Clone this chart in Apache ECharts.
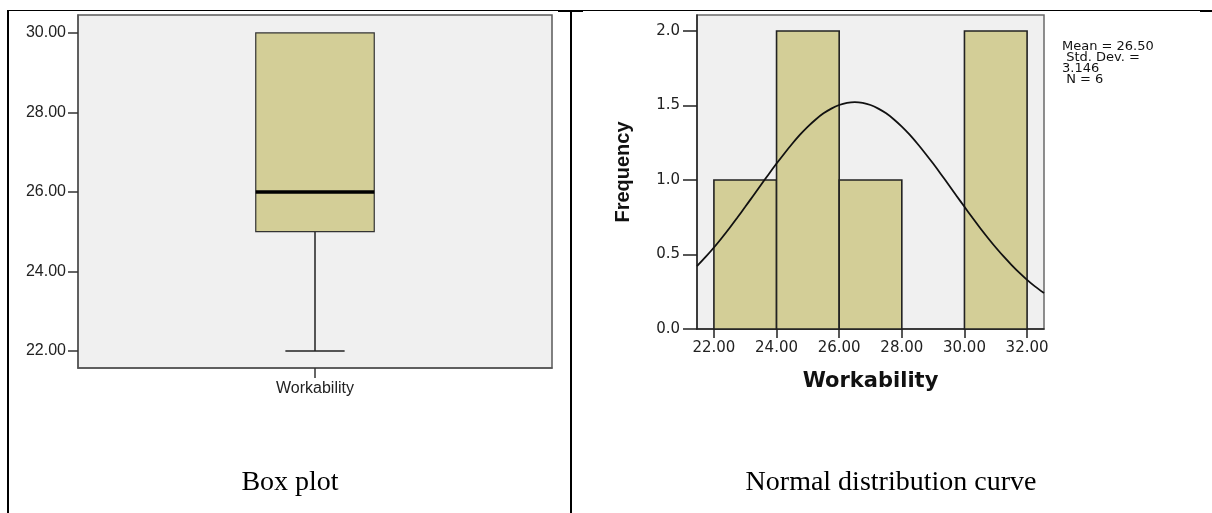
<!DOCTYPE html>
<html><head><meta charset="utf-8">
<script src="https://cdn.jsdelivr.net/npm/echarts@6/dist/echarts.min.js"></script>
<style>html,body{margin:0;padding:0;background:#fff}#c{width:1212px;height:513px}</style>
</head><body><div id="c"></div>
<script>
// ---- Box plot data ----
const boxCategories = ['Workability'];
const boxMin = [22];
const boxQ1 = [25];
const boxMedian = [26];
const boxQ3 = [30];
const boxMax = [30];
const boxYTicks = [22, 24, 26, 28, 30];

// ---- Histogram data ----
const binStarts = [22, 24, 26, 28, 30];
const binEnds = [24, 26, 28, 30, 32];
const binCounts = [1, 2, 1, 0, 2];
const histXTicks = [22, 24, 26, 28, 30, 32];
const histYTicks = [0, 0.5, 1.0, 1.5, 2.0];

// ---- Normal curve ----
const curveX = [21.46, 21.75, 22, 22.25, 22.5, 22.75, 23, 23.25, 23.5, 23.75, 24, 24.25, 24.5, 24.75, 25, 25.25, 25.5, 25.75, 26, 26.25, 26.5,
                26.75, 27, 27.25, 27.5, 27.75, 28, 28.25, 28.5, 28.75, 29, 29.25, 29.5, 29.75, 30, 30.25, 30.5, 30.75, 31, 31.25, 31.5, 31.75, 32, 32.25, 32.54];
const curveY = [0.422, 0.487, 0.547, 0.611, 0.678, 0.748, 0.820, 0.893, 0.966, 1.039, 1.110, 1.178, 1.243, 1.304, 1.358, 1.406, 1.447, 1.479, 1.503, 1.517, 1.522,
                1.517, 1.503, 1.479, 1.447, 1.406, 1.358, 1.304, 1.243, 1.178, 1.110, 1.039, 0.966, 0.893, 0.820, 0.748, 0.678, 0.611, 0.547, 0.487, 0.431, 0.378, 0.330, 0.286, 0.241];

const statsLines = ['Mean = 26.50', ' Std. Dev. =', '3.146', ' N = 6'];
const captions = ['Box plot', 'Normal distribution curve'];

const FILL = '#d3ce97';
const chart = echarts.init(document.getElementById('c'), null, {renderer: 'canvas'});

const boxData = boxCategories.map((c, i) => [i, boxMin[i], boxQ1[i], boxMedian[i], boxQ3[i], boxMax[i]]);
const histData = binStarts.map((s, i) => [s, binEnds[i], binCounts[i]]);
const curveData = curveX.map((x, i) => [x, curveY[i]]);

chart.setOption({
  animation: false,
  grid: [
    {left: 78, top: 15, width: 474, height: 353, show: true, backgroundColor: '#f0f0f0', borderColor: '#5a5a5a', borderWidth: 1.5},
    {left: 697, top: 15, width: 347, height: 314, show: true, backgroundColor: '#f0f0f0', borderColor: '#6a6a6a', borderWidth: 1.5}
  ],
  xAxis: [
    {
      gridIndex: 0, type: 'category', data: boxCategories,
      axisLine: {show: true, lineStyle: {color: '#555', width: 1.5}},
      axisTick: {show: true, alignWithLabel: true, length: 10, lineStyle: {color: '#333', width: 1.5}},
      axisLabel: {margin: 13, fontSize: 16, fontFamily: 'Liberation Sans', color: '#222'},
      splitLine: {show: false}
    },
    {
      gridIndex: 1, type: 'value', min: 21.46, max: 32.54,
      name: 'Workability', nameLocation: 'middle', nameGap: 42,
      nameTextStyle: {fontSize: 21, fontWeight: 'bold', fontFamily: 'DejaVu Sans', color: '#111'},
      axisLine: {show: true, lineStyle: {color: '#222', width: 1.5}},
      axisTick: {show: true, length: 9, customValues: histXTicks, lineStyle: {color: '#222', width: 1.5}},
      axisLabel: {margin: 12, fontSize: 15, fontFamily: 'DejaVu Sans', color: '#222', customValues: histXTicks,
        formatter: v => Number(v).toFixed(2)},
      splitLine: {show: false}
    }
  ],
  yAxis: [
    {
      gridIndex: 0, type: 'value', min: 21.57, max: 30.45,
      axisLine: {show: true, lineStyle: {color: '#555', width: 1.5}},
      axisTick: {show: true, length: 10, customValues: boxYTicks, lineStyle: {color: '#333', width: 1.5}},
      axisLabel: {margin: 12, fontSize: 16, fontFamily: 'Liberation Sans', color: '#222', customValues: boxYTicks,
        formatter: v => Number(v).toFixed(2)},
      splitLine: {show: false}
    },
    {
      gridIndex: 1, type: 'value', min: 0, max: 2.107,
      name: 'Frequency', nameLocation: 'middle', nameGap: 64,
      nameTextStyle: {fontSize: 20, fontWeight: 'bold', fontFamily: 'Liberation Sans', color: '#111'},
      axisLine: {show: true, lineStyle: {color: '#222', width: 1.5}},
      axisTick: {show: true, length: 14, customValues: histYTicks, lineStyle: {color: '#222', width: 1.5}},
      axisLabel: {margin: 17, fontSize: 15, fontFamily: 'DejaVu Sans', color: '#222', customValues: histYTicks,
        formatter: v => Number(v).toFixed(1)},
      splitLine: {show: false}
    }
  ],
  series: [
    {
      type: 'custom', xAxisIndex: 0, yAxisIndex: 0, data: boxData,
      encode: {x: 0, y: [1, 2, 3, 4, 5]},
      renderItem: function (params, api) {
        const xi = api.value(0);
        const band = api.size([1, 0])[0];
        const bw = band * 0.25, cw = bw / 2;
        const pMin = api.coord([xi, api.value(1)]);
        const pQ1 = api.coord([xi, api.value(2)]);
        const pMed = api.coord([xi, api.value(3)]);
        const pQ3 = api.coord([xi, api.value(4)]);
        const pMax = api.coord([xi, api.value(5)]);
        const cx = pMed[0];
        const ls = {stroke: '#222', lineWidth: 1.5};
        const children = [
          {type: 'line', shape: {x1: cx, y1: pQ1[1], x2: cx, y2: pMin[1]}, style: ls},
          {type: 'line', shape: {x1: cx - cw / 2, y1: pMin[1], x2: cx + cw / 2, y2: pMin[1]}, style: ls},
          {type: 'rect', shape: {x: cx - bw / 2, y: pQ3[1], width: bw, height: pQ1[1] - pQ3[1]},
            style: {fill: FILL, stroke: '#333', lineWidth: 1.2}},
          {type: 'line', shape: {x1: cx - bw / 2, y1: pMed[1], x2: cx + bw / 2, y2: pMed[1]},
            style: {stroke: '#000', lineWidth: 3.5}}
        ];
        if (pMax[1] < pQ3[1] - 0.5) {
          children.push({type: 'line', shape: {x1: cx, y1: pQ3[1], x2: cx, y2: pMax[1]}, style: ls});
          children.push({type: 'line', shape: {x1: cx - cw / 2, y1: pMax[1], x2: cx + cw / 2, y2: pMax[1]}, style: ls});
        }
        return {type: 'group', children: children};
      }
    },
    {
      type: 'custom', xAxisIndex: 1, yAxisIndex: 1, data: histData,
      encode: {x: [0, 1], y: 2},
      renderItem: function (params, api) {
        if (!api.value(2)) return null;
        const p0 = api.coord([api.value(0), api.value(2)]);
        const p1 = api.coord([api.value(1), 0]);
        return {type: 'rect', shape: {x: p0[0], y: p0[1], width: p1[0] - p0[0], height: p1[1] - p0[1]},
          style: {fill: FILL, stroke: '#222', lineWidth: 1.6}};
      }
    },
    {
      type: 'line', xAxisIndex: 1, yAxisIndex: 1, data: curveData,
      smooth: 0.25, showSymbol: false, symbol: 'none', z: 5,
      lineStyle: {color: '#111', width: 1.8}
    }
  ],
  graphic: {elements: [
    {type: 'line', shape: {x1: 8, y1: 10.5, x2: 1212, y2: 10.5}, style: {stroke: '#000', lineWidth: 1}},
    {type: 'line', shape: {x1: 8, y1: 10, x2: 8, y2: 513}, style: {stroke: '#000', lineWidth: 2}},
    {type: 'line', shape: {x1: 571, y1: 10, x2: 571, y2: 513}, style: {stroke: '#000', lineWidth: 2}},
    {type: 'line', shape: {x1: 558, y1: 11, x2: 583, y2: 11}, style: {stroke: '#000', lineWidth: 2}},
    {type: 'line', shape: {x1: 1200, y1: 11, x2: 1212, y2: 11}, style: {stroke: '#000', lineWidth: 2}},
    {type: 'text', x: 1062, y: 41, style: {text: statsLines.join('\n'), fill: '#111',
      font: '13px "DejaVu Sans"', lineHeight: 11, textAlign: 'left', textVerticalAlign: 'top'}},
    {type: 'text', x: 290, y: 483, style: {text: captions[0], fill: '#000',
      font: '28px "Liberation Serif"', textAlign: 'center', textVerticalAlign: 'middle'}},
    {type: 'text', x: 891, y: 483, style: {text: captions[1], fill: '#000',
      font: '28px "Liberation Serif"', textAlign: 'center', textVerticalAlign: 'middle'}}
  ]}
});
</script>
</body></html>
